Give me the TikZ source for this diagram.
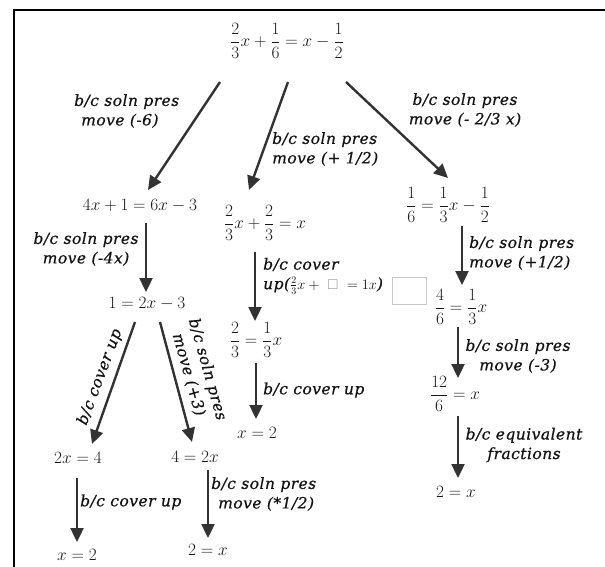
\documentclass[tikz,border=0pt]{standalone}
\usepackage{amsmath,amssymb}
\usepackage{fontspec}
\newfontfamily\handfont{DejaVu Serif}[LetterSpace=3, FakeBold=0.6]
\usetikzlibrary{arrows.meta,calc}
\begin{document}
\begin{tikzpicture}[x=1pt,y=-1pt,
  eq/.style={inner sep=0pt, text=black!90, font=\fontsize{17}{19}\selectfont},
  lab/.style={inner sep=0pt, text=black!92, font=\handfont\itshape\fontsize{15.5}{19.5}\selectfont, align=left},
  labc/.style={lab, align=center},
  arr/.style={line width=2.4pt, draw=black!80, -{Triangle[width=13pt,length=14pt]}},
  ghost/.style={draw=black!22, line width=0.6pt, minimum width=34pt, minimum height=27pt, inner sep=0pt}]
\useasboundingbox (0,0) rectangle (605,567);
% frame
\draw[line width=2pt, black] (14,567) -- (14,10) -- (605,10);

% equations
\node[eq] (top) at (287,41) {$\displaystyle \frac{2}{3}x+\frac{1}{6}=x-\frac{1}{2}$};
\node[eq] (n41) at (140,206) {$4x+1=6x-3$};
\node[eq] (nB) at (265,223) {$\displaystyle \frac{2}{3}x+\frac{2}{3}=x$};
\node[eq] (nC) at (448,205) {$\displaystyle \frac{1}{6}=\frac{1}{3}x-\frac{1}{2}$};
\node[eq] (n12) at (147,304) {$1=2x-3$};
\node[eq] (nM2) at (256,340) {$\displaystyle \frac{2}{3}=\frac{1}{3}x$};
\node[eq] (nMx) at (257,433) {$x=2$};
\node[eq] (nR2) at (461,307) {$\displaystyle \frac{4}{6}=\frac{1}{3}x$};
\node[eq] (nR3) at (455,394) {$\displaystyle \frac{12}{6}=x$};
\node[eq] (nR4) at (456,492) {$2=x$};
\node[eq] (nL1) at (78,458) {$2x=4$};
\node[eq] (nL2) at (195,457) {$4=2x$};
\node[eq] (nL3) at (77,555) {$x=2$};
\node[eq] (nL4) at (208,550) {$2=x$};

% empty box
\node[ghost] (box) at (409,290.5) {};

% arrows
\draw[arr] ([shift={(-67,41)}]top.center) -- ([shift={(8,-16)}]n41.center);
\draw[arr] ([shift={(1,41)}]top.center) -- ([shift={(-16,-33)}]nB.center);
\draw[arr] ([shift={(59,41)}]top.center) -- ([shift={(0,-27)}]nC.center);
\draw[arr] ([shift={(6,17)}]n41.center) -- ([shift={(-1,-12)}]n12.center);
\draw[arr] ([shift={(-10,29)}]nB.center) -- ([shift={(-1,-19)}]nM2.center);
\draw[arr] ([shift={(14,21)}]nC.center) -- ([shift={(1,-22)}]nR2.center);
\draw[arr] ([shift={(-3,20)}]nR2.center) -- ([shift={(3,-16)}]nR3.center);
\draw[arr] ([shift={(3,22)}]nR3.center) -- ([shift={(2,-14)}]nR4.center);
\draw[arr] ([shift={(0,23)}]nM2.center) -- ([shift={(-1,-14)}]nMx.center);
\draw[arr] ([shift={(-12,18)}]n12.center) -- ([shift={(14,-14)}]nL1.center);
\draw[arr] ([shift={(13,18)}]n12.center) -- ([shift={(-3,-15)}]nL2.center);
\draw[arr] ([shift={(-1,20)}]nL1.center) -- ([shift={(0,-13)}]nL3.center);
\draw[arr] ([shift={(13,13)}]nL2.center) -- ([shift={(0,-12)}]nL4.center);

% labels
\node[lab, anchor=west] (la) at (74,111) {b/c soln pres\\\hspace*{7pt}move (-6)};
\node[lab, anchor=west] (lb) at (272,149) {b/c soln pres\\move (+ 1/2)};
\node[labc] (lc) at (465,110) {b/c soln pres\\move (- 2/3 x)};
\node[labc] (ld) at (86,249) {b/c soln pres\\move (-4x)};
\node[lab, anchor=west] (lf) at (263,276) {b/c cover\\up({\normalfont\fontsize{14}{14}\selectfont$\frac{2}{3}x+\ {\color{black!45}\square}\ =1x$})};
\node[lab, anchor=west] (lm) at (263,390) {b/c cover up};
\node[lab, anchor=west] (lg) at (469,253) {b/c soln pres\\move (+1/2)};
\node[labc] (lh) at (518,356) {b/c soln pres\\move (-3)};
\node[labc] (li) at (524,445) {b/c equivalent\\fractions};
\node[lab, anchor=west] (lj) at (80,502) {b/c cover up};
\node[lab, anchor=west] (lk) at (211,494) {b/c soln pres\\\hspace*{7pt}move (*1/2)};
\node[lab, rotate=69.5] (le) at (100,377) {b/c cover up};
\node[labc, rotate=-74.3] (le2) at (198,372) {b/c soln pres\\move (+3)};
\end{tikzpicture}
\end{document}
